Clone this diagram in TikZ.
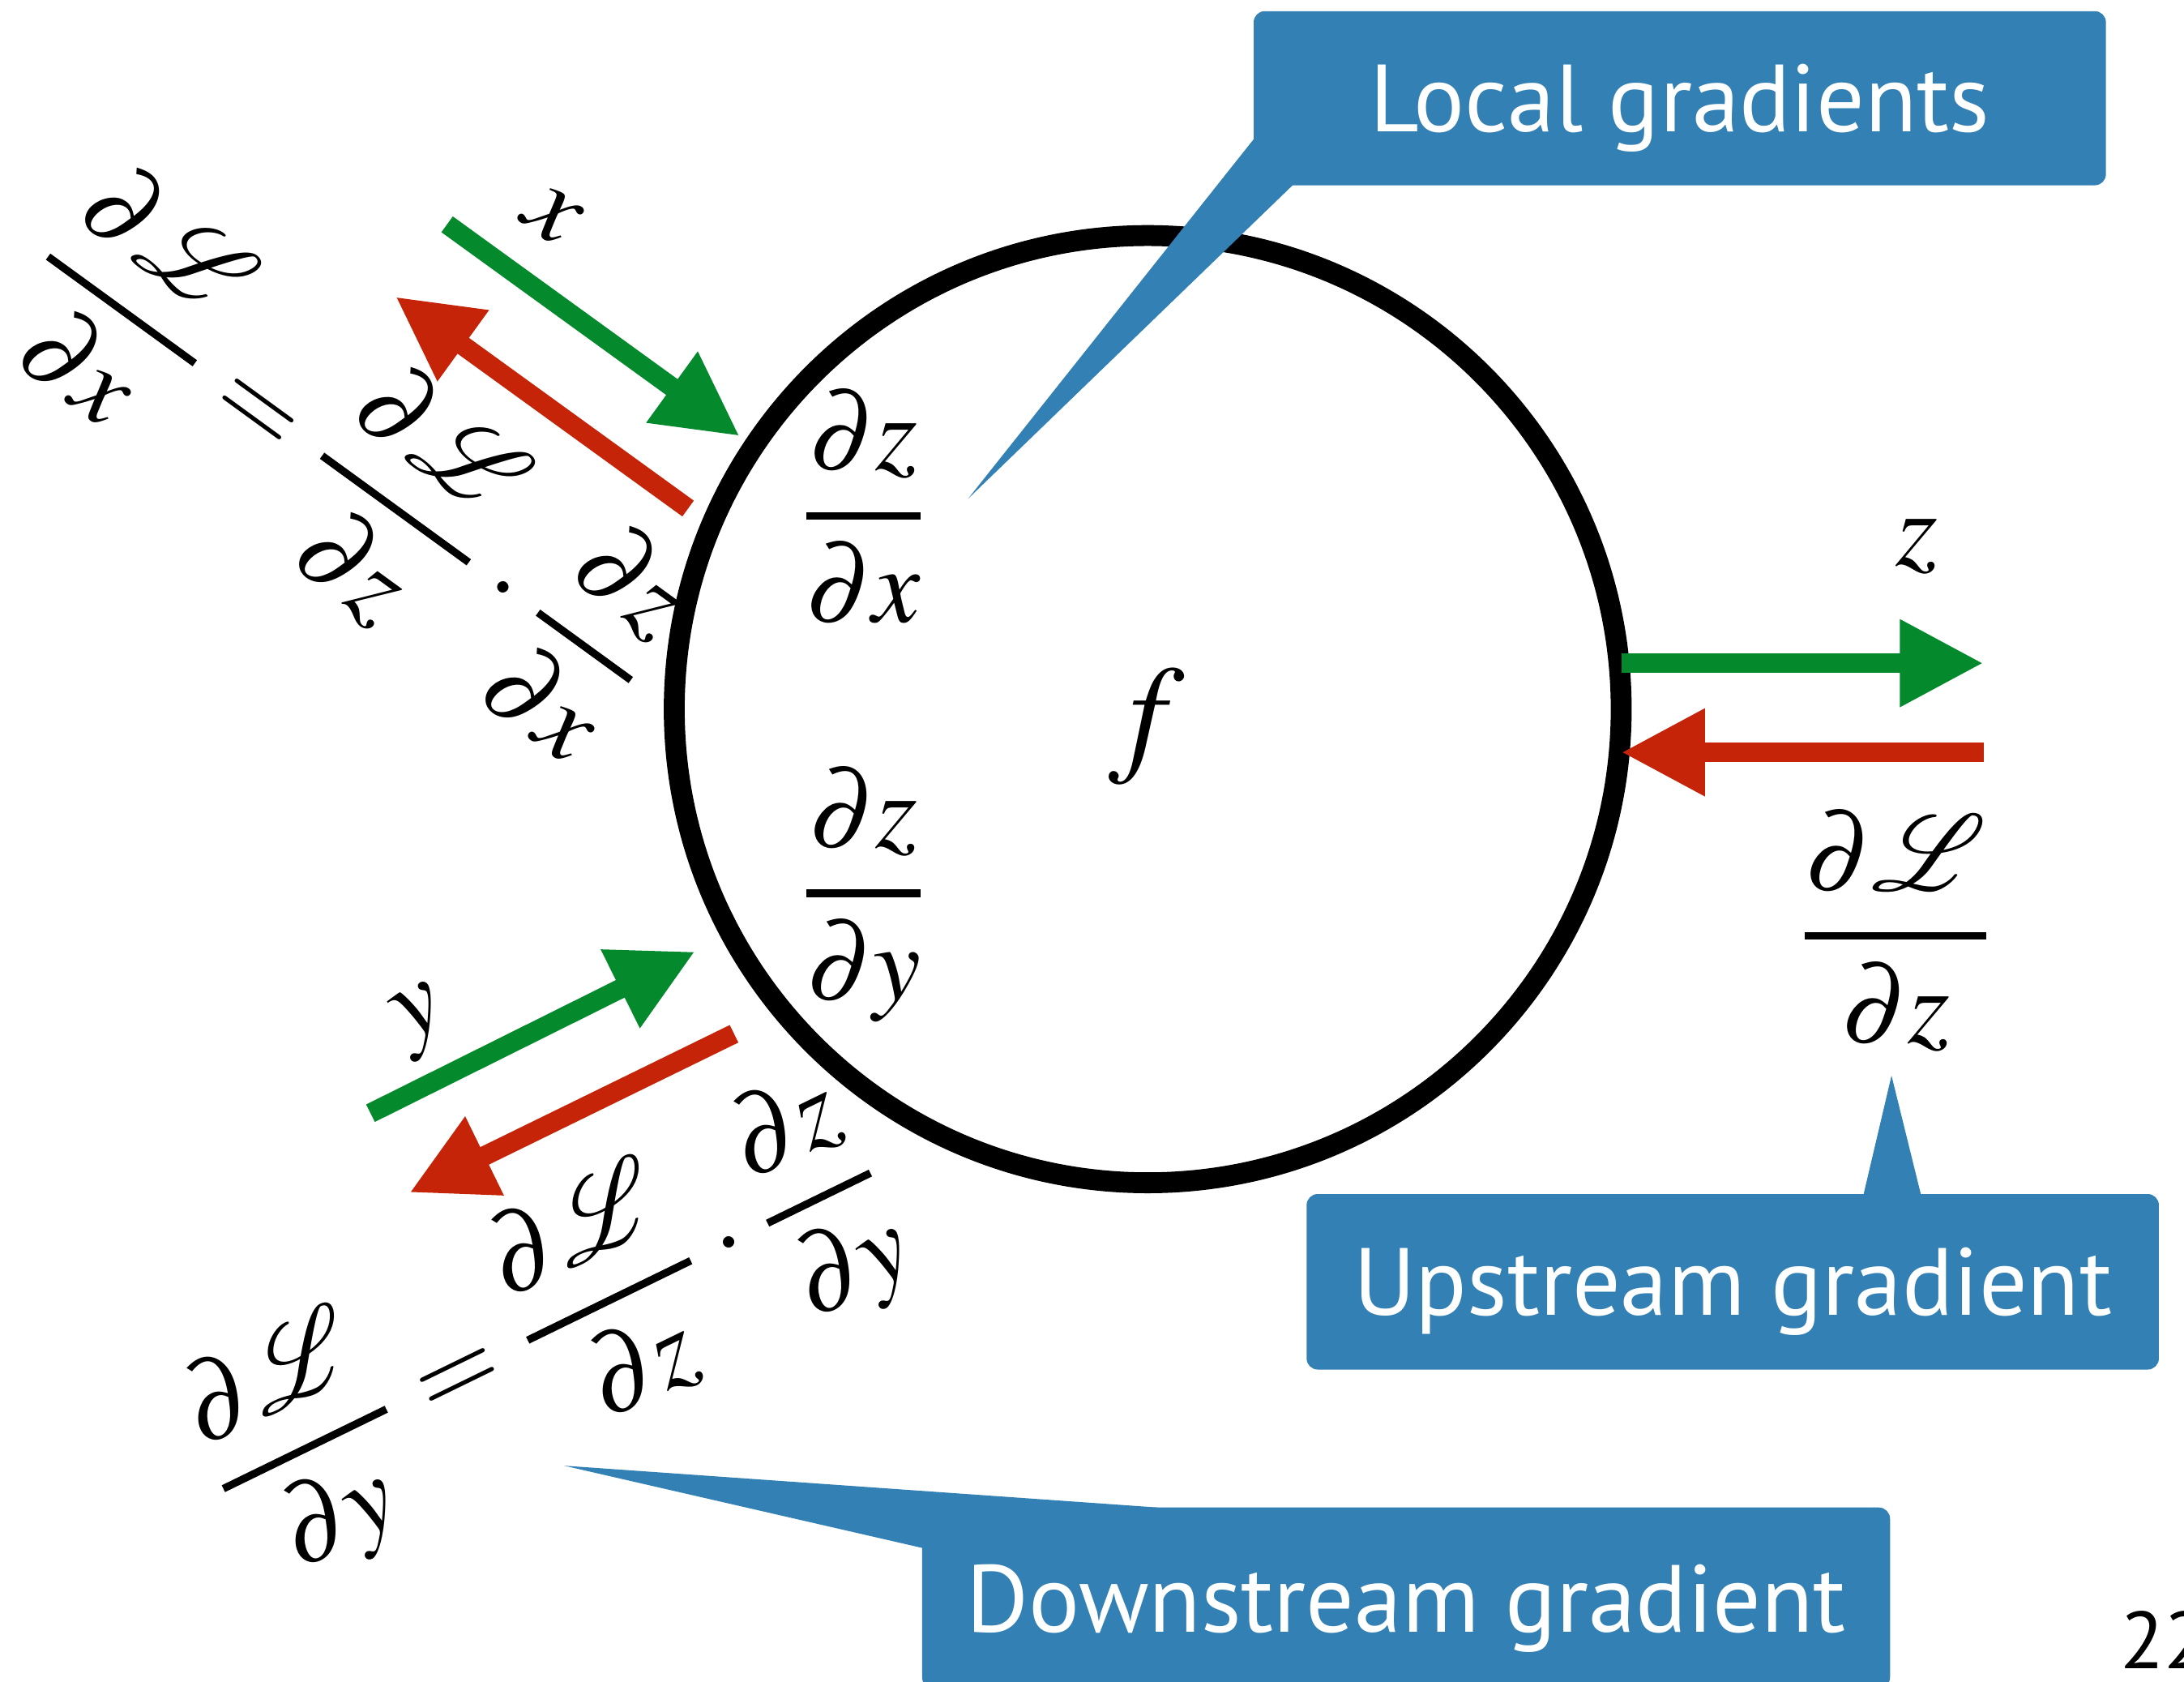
\documentclass[tikz,border=0pt]{standalone}
\usepackage{amsmath}
\usepackage{mathptmx}
\usepackage{mathrsfs}
\usepackage[no-math]{fontspec}
\newfontfamily\calloutfont{PT Sans}
\usetikzlibrary{positioning,arrows.meta,calc}
\definecolor{fgreen}{RGB}{4,137,45}
\definecolor{bred}{RGB}{197,36,8}
\definecolor{cblue}{RGB}{50,128,180}
\newcommand{\pfrac}[2]{\genfrac{}{}{0.7pt}{0}{#1}{#2}}

\begin{document}
\begin{tikzpicture}[x=0.02cm,y=-0.02cm,
    mth/.style={scale=4.4,inner sep=0pt},
    fwd/.style={fgreen,line width=0.28cm,-{Triangle[length=1.2cm,width=1.18cm]}},
    bwd/.style={bred,line width=0.28cm,-{Triangle[length=1.2cm,width=1.18cm]}},
    callout/.style={fill=cblue,rounded corners=0.16cm,text=white,inner sep=0pt,text depth=0pt,
      font=\calloutfont\fontsize{39}{47}\selectfont}]
  \useasboundingbox (0,0) rectangle (1568,1207);
  % the gate
  \node[draw,circle,line width=0.30cm,minimum size=13.6cm,inner sep=0pt] (gate) at (824,509) {};
  \node[scale=5.4] (flab) at (823,522) {$f$};
  \node[mth] (dzdx) at (620,364) {$\pfrac{\partial z}{\partial x}$};
  \node[mth] (dzdy) at (620,642) {$\pfrac{\partial z}{\partial y}$};
  % output side
  \coordinate (ztail) at (1164,476);  \coordinate (zhead) at (1424,476);
  \coordinate (gztail) at (1424,540); \coordinate (gzhead) at (1164,540);
  \draw[fwd] (ztail) -- (zhead);
  \draw[bwd] (gztail) -- (gzhead);
  \node[mth] (zlab) at (1376,392) {$z$};
  \node[mth] (dLdz) at (1361,668) {$\pfrac{\partial\mathscr{L}}{\partial z}$};
  % input x
  \coordinate (xtail) at (321,161);   \coordinate (xhead) at (531,313);
  \coordinate (gxtail) at (494,365);  \coordinate (gxhead) at (284,213);
  \draw[fwd] (xtail) -- (xhead);
  \draw[bwd] (gxtail) -- (gxhead);
  \node[mth,rotate=-36] (xlab) at (396,155) {$x$};
  \node[mth,rotate=-36] (eqx) at (246,333)
    {$\pfrac{\partial\mathscr{L}}{\partial x}=\pfrac{\partial\mathscr{L}}{\partial z}\cdot\pfrac{\partial z}{\partial x}$};
  % input y
  \coordinate (ytail) at (266,799);   \coordinate (yhead) at (499,683);
  \coordinate (gytail) at (527,742);  \coordinate (gyhead) at (294,856);
  \draw[fwd] (ytail) -- (yhead);
  \draw[bwd] (gytail) -- (gyhead);
  \node[mth,rotate=26] (ylab) at (303,733) {$y$};
  \node[mth,rotate=26] (eqy) at (393,956)
    {$\pfrac{\partial\mathscr{L}}{\partial y}=\pfrac{\partial\mathscr{L}}{\partial z}\cdot\pfrac{\partial z}{\partial y}$};
  % callouts
  \coordinate (loctip) at (695,358);
  \coordinate (uptip) at (1358,772);
  \coordinate (dntip) at (405,1052);
  \fill[cblue] (loctip) -- (900,100) -- (940,100) -- (940,120) -- (928,133) -- cycle;
  \fill[cblue] (uptip) -- (1338,857) -- (1338,875) -- (1379,875) -- (1379,857) -- cycle;
  \fill[cblue] (dntip) -- (831,1082) -- (700,1120) -- (662,1111) -- cycle;
  \node[callout,minimum width=12.24cm,minimum height=2.5cm] (locbox) at (1206,70.5) {Local gradients};
  \node[callout,minimum width=12.24cm,minimum height=2.52cm] (upbox) at (1244,920) {Upstream gradient};
  \node[callout,minimum width=13.9cm,minimum height=2.6cm] (dnbox) at (1009.5,1147) {Downstream gradient};
  \node[anchor=west,inner sep=0pt,font=\calloutfont\fontsize{33}{40}\selectfont] (pnum) at (1522,1177) {22};
\end{tikzpicture}
\end{document}
